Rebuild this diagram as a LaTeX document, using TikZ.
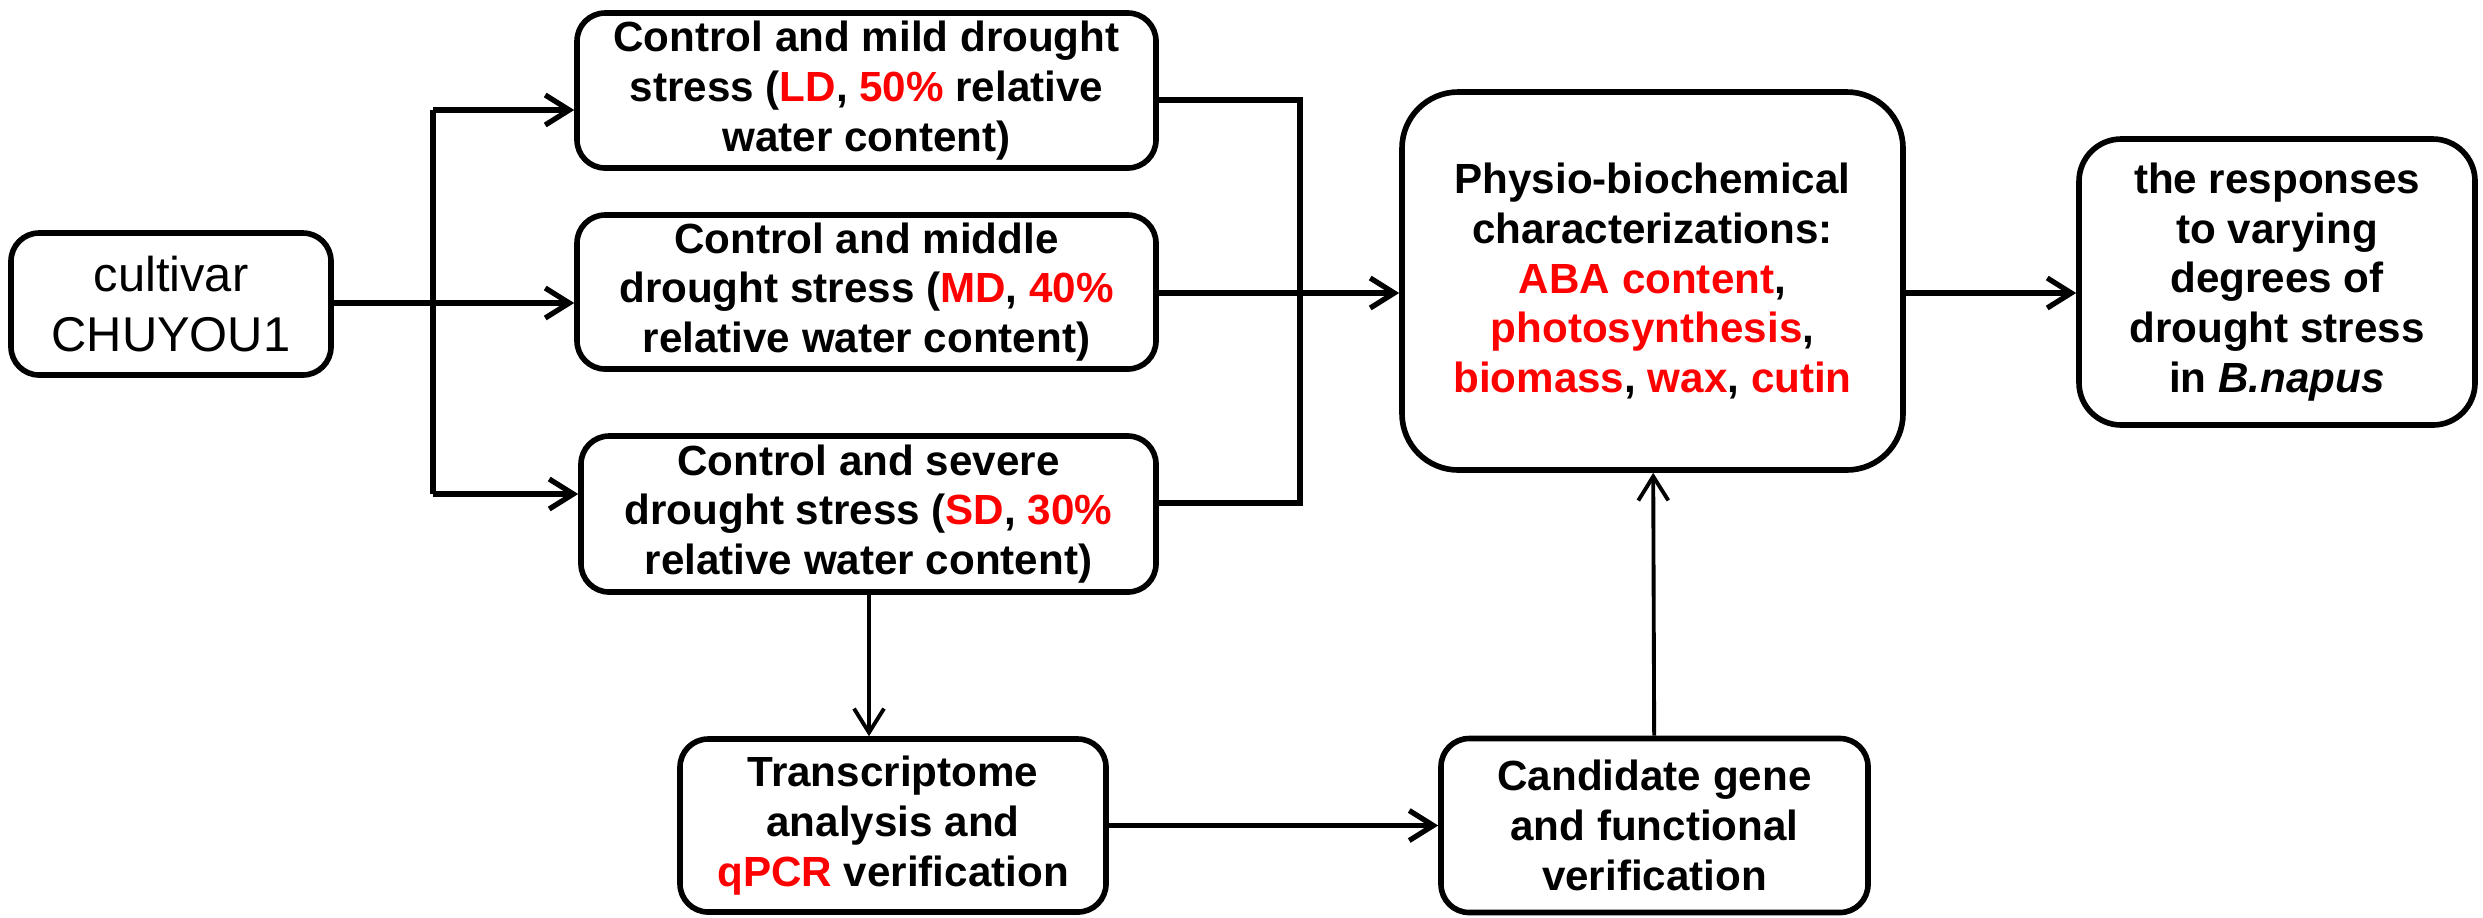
\documentclass[tikz,border=0pt]{standalone}
\usepackage{fontspec}
\setmainfont{Liberation Sans}
\usetikzlibrary{arrows.meta}
\usetikzlibrary{positioning}
\usetikzlibrary{calc}

\begin{document}
\begin{tikzpicture}
  [box/.style = {rectangle, draw, line width=1.6pt, rounded corners=8pt, align=center,
                 inner sep=0pt, font=\fontsize{12}{14.2}\selectfont\bfseries},
   bigbox/.style = {box, rounded corners=16pt},
   >={Straight Barb[length=2.4mm, width=3mm]},
   every path/.style = {line width=1.5pt}]
  \useasboundingbox (0,0) rectangle (24.83,-9.17);

  \node (cult) [box, font=\fontsize{13.9}{17}\selectfont, minimum width=3.20cm, minimum height=1.42cm]
    at (1.71,-3.04) {cultivar\\CHUYOU1};
  \node (ld) [box, minimum width=5.79cm, minimum height=1.55cm] at (8.665,-0.905)
    {Control and mild drought\\stress (\textcolor{red}{LD}, \textcolor{red}{50\%} relative\\water content)};
  \node (md) [box, minimum width=5.79cm, minimum height=1.54cm] at (8.665,-2.92)
    {Control and middle\\drought stress (\textcolor{red}{MD}, \textcolor{red}{40\%}\\relative water content)};
  \node (sd) [box, minimum width=5.75cm, minimum height=1.56cm] at (8.685,-5.14)
    {Control and severe\\drought stress (\textcolor{red}{SD}, \textcolor{red}{30\%}\\relative water content)};
  \node (physio) [bigbox, minimum width=5.01cm, minimum height=3.78cm] at (16.525,-2.81)
    {Physio-biochemical\\characterizations:\\\textcolor{red}{ABA content},\\\textcolor{red}{photosynthesis},\\\textcolor{red}{biomass}, \textcolor{red}{wax}, \textcolor{red}{cutin}};
  \node (resp) [bigbox, rounded corners=12pt, minimum width=3.96cm, minimum height=2.86cm] at (22.77,-2.82)
    {the responses\\to varying\\degrees of\\drought stress\\in \textit{B.napus}};
  \node (trans) [box, minimum width=4.26cm, minimum height=1.73cm] at (8.93,-8.255)
    {Transcriptome\\analysis and\\\textcolor{red}{qPCR} verification};
  \node (cand) [box, minimum width=4.27cm, minimum height=1.74cm] at (16.545,-8.255)
    {Candidate gene\\and functional\\verification};

  % split and collector lines
  \coordinate (s1) at (4.33,-1.10);
  \coordinate (s3) at (4.33,-4.94);
  \coordinate (c1) at (13.00,-1.00);
  \coordinate (c3) at (13.00,-5.03);
  \coordinate (m) at (13.00,-2.93);

  \draw [->] (cult.east |- 0,-3.03) -- (md.west |- 0,-3.03);
  \draw (s1) -- (s3);
  \draw [->] (s1) -- (s1 -| ld.west);
  \draw [->] (s3) -- (s3 -| sd.west);
  \draw (ld.east |- c1) -- (c1) -- (c3) -- (sd.east |- c3);
  \draw [->] (md.east |- m) -- (physio.west |- m);
  \draw [->] (physio.east |- m) -- (resp.west |- m);
  \draw [->, line width=1.1pt] (sd.south -| 8.69,0) -- (trans.north -| 8.69,0);
  \draw [->] (trans) -- (cand);
  \draw [->, line width=1.1pt] (cand) -- (physio);
\end{tikzpicture}
\end{document}
